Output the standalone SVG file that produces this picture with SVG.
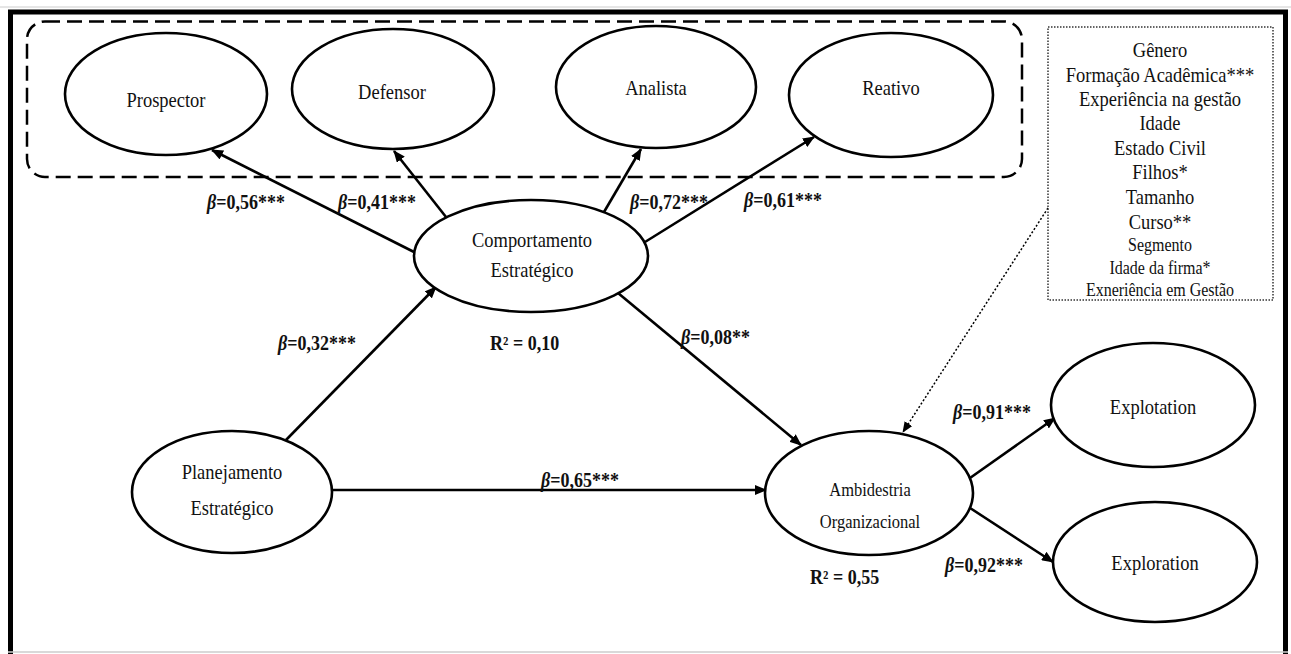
<svg xmlns="http://www.w3.org/2000/svg" width="1291" height="654" viewBox="0 0 1291 654">
<defs>
<style>
.node{fill:#fff;stroke:#000;stroke-width:2.6}
text{font-family:"Liberation Serif","Times New Roman",serif;fill:#111;transform-box:fill-box;transform-origin:center;transform:scaleY(1.12)}
.t{font-size:18.5px;text-anchor:middle}
.ts{font-size:16.5px;text-anchor:middle}
.lb{font-size:18px;font-weight:bold}
.b{font-style:italic}
.c{stroke:#000;stroke-width:2.6;fill:none;marker-end:url(#ah)}
.cd{stroke:#000;stroke-width:1.5;fill:none;stroke-dasharray:2 2;marker-end:url(#ah2)}
.cv{font-size:18.5px;text-anchor:middle}
.cvs{font-size:16px;text-anchor:middle}
</style>
<marker id="ah" viewBox="0 0 12 10" refX="11" refY="5" markerWidth="12" markerHeight="10" markerUnits="userSpaceOnUse" orient="auto"><path d="M0,0 L12,5 L0,10 Z" fill="#000"/></marker>
<marker id="ah2" viewBox="0 0 12 10" refX="11" refY="5" markerWidth="11" markerHeight="9" markerUnits="userSpaceOnUse" orient="auto"><path d="M0,0 L12,5 L0,10 Z" fill="#000"/></marker>
</defs>
<rect x="0" y="0" width="1291" height="654" fill="#fff"/>
<line x1="0" y1="7" x2="1291" y2="7" stroke="#ccc" stroke-width="1"/>
<path d="M10.5,654 V12 H1285.5 V654" fill="none" stroke="#000" stroke-width="5"/>
<line x1="8" y1="652" x2="1288" y2="652" stroke="#ccc" stroke-width="1.5"/>

<g id="group-strategies">
<rect x="27" y="21.5" width="995" height="155.5" rx="18" ry="18" fill="none" stroke="#000" stroke-width="2.5" stroke-dasharray="15 7"/>
</g>

<g id="connectors">
<line class="c" x1="414" y1="252" x2="212" y2="150"/>
<line class="c" x1="446" y1="217" x2="394" y2="151"/>
<line class="c" x1="604" y1="212" x2="641" y2="149"/>
<line class="c" x1="645" y1="242" x2="814" y2="137"/>
<line class="c" x1="286" y1="440" x2="436" y2="287"/>
<line class="c" x1="332" y1="490" x2="766" y2="490"/>
<line class="c" x1="618" y1="293" x2="801" y2="445"/>
<line class="c" x1="970" y1="478" x2="1055" y2="418"/>
<line class="c" x1="970" y1="508" x2="1053" y2="562"/>
<line class="cd" x1="1048" y1="208" x2="903" y2="432"/>
</g>

<g id="prospector"><ellipse class="node" cx="166" cy="94" rx="101" ry="61"/><text class="t" x="166" y="106">Prospector</text></g>
<g id="defensor"><ellipse class="node" cx="393" cy="89" rx="101" ry="60"/><text class="t" x="392" y="98">Defensor</text></g>
<g id="analista"><ellipse class="node" cx="656" cy="87" rx="100" ry="61"/><text class="t" x="656" y="94">Analista</text></g>
<g id="reativo"><ellipse class="node" cx="891" cy="95" rx="102" ry="62"/><text class="t" x="891" y="94">Reativo</text></g>
<g id="comportamento"><ellipse class="node" cx="531" cy="256" rx="117" ry="56"/><text class="t" x="532" y="246">Comportamento</text><text class="t" x="532" y="276">Estratégico</text></g>
<g id="planejamento"><ellipse class="node" cx="232" cy="492" rx="100" ry="61"/><text class="t" x="232" y="478">Planejamento</text><text class="t" x="232" y="514">Estratégico</text></g>
<g id="ambidestria"><ellipse class="node" cx="869" cy="493" rx="104" ry="62"/><text class="ts" x="870" y="495">Ambidestria</text><text class="ts" x="870" y="527">Organizacional</text></g>
<g id="explotation"><ellipse class="node" cx="1153" cy="405" rx="102" ry="62"/><text class="t" x="1153" y="413">Explotation</text></g>
<g id="exploration"><ellipse class="node" cx="1155" cy="562" rx="102" ry="60"/><text class="t" x="1155" y="569">Exploration</text></g>

<g id="controls" font-family="Liberation Serif, Times New Roman, serif">
<rect x="1048" y="27" width="225" height="273" fill="none" stroke="#333" stroke-width="1.5" stroke-dasharray="1.5 1.5"/>
<text class="cv" x="1160" y="56">Gênero</text>
<text class="cv" x="1160" y="81">Formação Acadêmica***</text>
<text class="cv" x="1160" y="105">Experiência na gestão</text>
<text class="cv" x="1160" y="129">Idade</text>
<text class="cv" x="1160" y="154">Estado Civil</text>
<text class="cv" x="1160" y="178">Filhos*</text>
<text class="cv" x="1160" y="203">Tamanho</text>
<text class="cv" x="1160" y="228">Curso**</text>
<text class="cvs" x="1160" y="250">Segmento</text>
<text class="cvs" x="1160" y="273">Idade da firma*</text>
<text class="cvs" x="1160" y="295">Exneriência em Gestão</text>
</g>

<g id="labels">
<text class="lb" x="207" y="208"><tspan class="b">β</tspan>=0,56***</text>
<text class="lb" x="338" y="208"><tspan class="b">β</tspan>=0,41***</text>
<text class="lb" x="630" y="208"><tspan class="b">β</tspan>=0,72***</text>
<text class="lb" x="744" y="206"><tspan class="b">β</tspan>=0,61***</text>
<text class="lb" x="278" y="349"><tspan class="b">β</tspan>=0,32***</text>
<text class="lb" x="490" y="349">R² = 0,10</text>
<text class="lb" x="681" y="343"><tspan class="b">β</tspan>=0,08**</text>
<text class="lb" x="953" y="418"><tspan class="b">β</tspan>=0,91***</text>
<text class="lb" x="541" y="486"><tspan class="b">β</tspan>=0,65***</text>
<text class="lb" x="945" y="571"><tspan class="b">β</tspan>=0,92***</text>
<text class="lb" x="810" y="583">R² = 0,55</text>
</g>
</svg>
